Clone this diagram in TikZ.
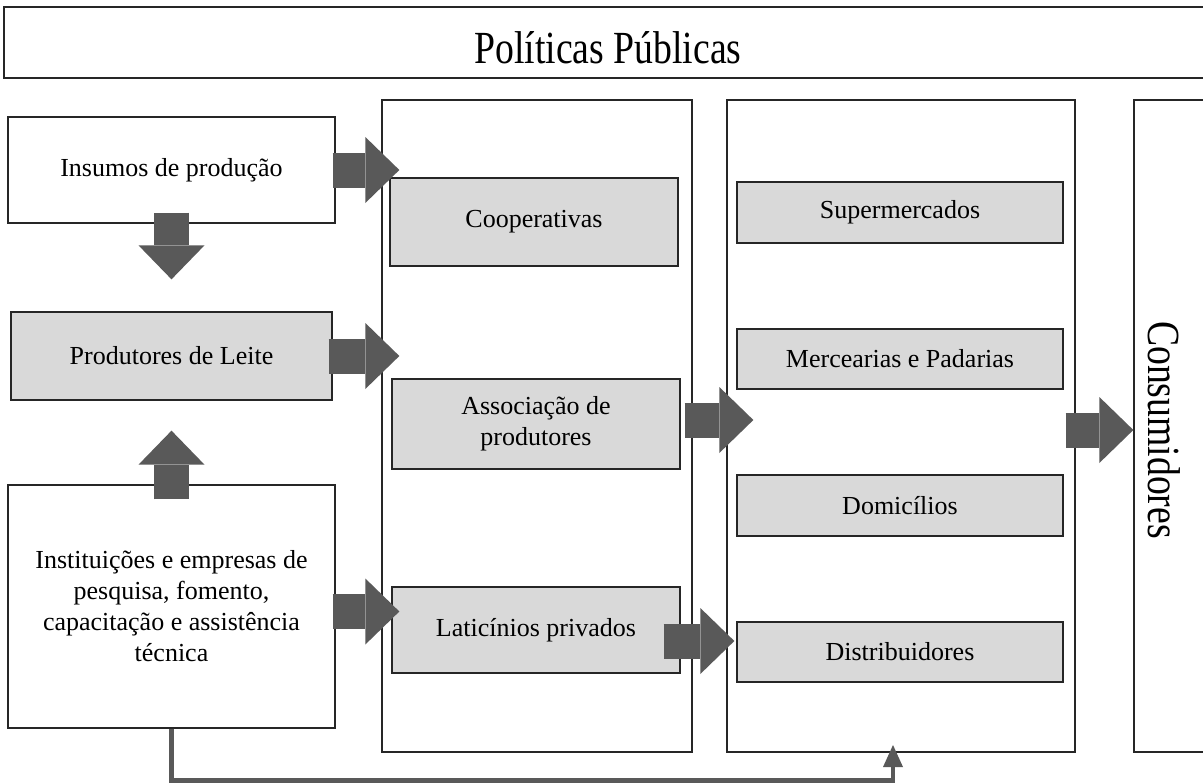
\documentclass[tikz,border=0pt]{standalone}
\usepackage{fontspec}
\setmainfont{Liberation Serif}
\newfontfamily\condfont[FakeStretch=0.82]{Liberation Serif}
\usetikzlibrary{arrows.meta}
\definecolor{boxgray}{HTML}{D9D9D9}
\definecolor{arrowgray}{HTML}{595959}
\tikzset{
  box/.style={draw=black!85, line width=1.3pt, rectangle, inner sep=0pt, align=center, font=\fontsize{26}{31}\selectfont},
  graybox/.style={box, fill=boxgray},
  bigfont/.style={font=\condfont\fontsize{46}{50}\selectfont},
  blockarrow/.style={arrowgray, line width=35pt, -{Triangle[length=34pt,width=66pt,line width=0pt]}},
  linkarrow/.style={arrowgray, line width=4.5pt, -{Triangle[length=22pt,width=20pt,line width=0pt]}}
}
\begin{document}
\begin{tikzpicture}[x=1pt,y=-1pt]
\useasboundingbox (0,0) rectangle (1203,784);
\node[box, bigfont, minimum width=1208, minimum height=71] (pub) at (608,42.5) {\raisebox{-5pt}[\height][\depth]{Políticas Públicas}};
\node[box, minimum width=327, minimum height=106] (ins) at (171.5,170) {Insumos de produção};
\node[graybox, minimum width=321, minimum height=88] (prod) at (171.5,356) {Produtores de Leite};
\node[box, minimum width=327, minimum height=243] (inst) at (171.5,606.5) {Instituições e empresas de\\ pesquisa, fomento,\\ capacitação e assistência\\ técnica};
\node[box, minimum width=310, minimum height=652] (mid) at (537,426) {};
\node[graybox, minimum width=288, minimum height=88] (coop) at (534,222) {Cooperativas};
\node[graybox, minimum width=288, minimum height=90] (assoc) at (536,424) {Associação de\\ produtores};
\node[graybox, minimum width=288, minimum height=86] (latic) at (536,630) {Laticínios privados};
\node[box, minimum width=348, minimum height=652] (ret) at (901,426) {};
\node[graybox, minimum width=326, minimum height=61] (super) at (900,212.5) {Supermercados};
\node[graybox, minimum width=326, minimum height=60] (merc) at (900,359) {Mercearias e Padarias};
\node[graybox, minimum width=326, minimum height=61] (dom) at (900,505.5) {Domicílios};
\node[graybox, minimum width=326, minimum height=60] (dist) at (900,652) {Distribuidores};
\node[box, minimum width=81, minimum height=652] (cons) at (1174.5,426) {};
\node[bigfont, rotate=-90] (conslabel) at ([xshift=-10pt,yshift=-4pt]cons.center) {Consumidores};
\coordinate (fb) at (893,745);

\draw[blockarrow] ([xshift=-3pt]ins.east) -- ([xshift=10pt]ins.east -| coop.west);
\draw[blockarrow] ([yshift=11pt]ins.south) -- ([yshift=32pt]prod.north);
\draw[blockarrow] ([xshift=-4pt]prod.east) -- ([xshift=8pt]prod.east -| assoc.west);
\draw[blockarrow] ([yshift=-15pt]inst.north) -- ([yshift=-30pt]prod.south);
\draw[blockarrow] ([xshift=-3pt,yshift=-5pt]inst.east) -- ([xshift=8pt,yshift=-5pt]inst.east -| latic.west);
\draw[blockarrow] ([xshift=4pt,yshift=4pt]assoc.east) -- ([xshift=27pt,yshift=4pt]assoc.east -| ret.west);
\draw[blockarrow] ([xshift=-17pt,yshift=-11pt]latic.east) -- ([xshift=-2pt,yshift=-11pt]latic.east -| dist.west);
\draw[blockarrow] ([xshift=-10pt,yshift=-4pt]ret.east) -- ([yshift=-4pt]ret.east -| cons.west);
\draw[linkarrow] (inst.south) -- ++(0,52) -| (fb);
\end{tikzpicture}
\end{document}
